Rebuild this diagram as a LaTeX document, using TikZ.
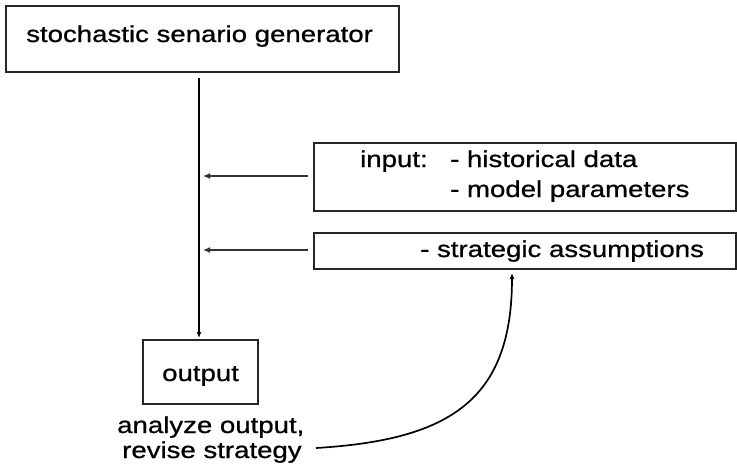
\documentclass[tikz,border=0pt]{standalone}
\usepackage{fontspec}
\setmainfont[FakeStretch=1.2,FakeBold=0.8]{Liberation Sans}
\usetikzlibrary{arrows.meta}
\begin{document}
\begin{tikzpicture}[x=1pt,y=-1pt,
  box/.style={draw=black!85, line width=1.7pt, rectangle, inner sep=0pt},
  lbl/.style={inner sep=0pt, anchor=base west, font=\fontsize{23}{27}\selectfont},
  feed/.style={draw=black!80, line width=1.1pt, -{Latex[length=7pt,width=6pt]}},
  flow/.style={draw=black, line width=1.7pt, -{Latex[length=6pt,width=5pt]}}]
  \useasboundingbox (0,0) rectangle (737,471);

  % boxes (corner to corner)
  \node[box, minimum width=393pt, minimum height=66pt, anchor=north west] (gen) at (5,5) {};
  \node[box, minimum width=422pt, minimum height=68pt, anchor=north west] (inp) at (313,142) {};
  \node[box, minimum width=422pt, minimum height=36pt, anchor=north west] (strat) at (313,232) {};
  \node[box, minimum width=115pt, minimum height=64pt, anchor=north west] (out) at (142,339) {};

  % texts
  \node[lbl] (tgen) at (26,42) {stochastic senario generator};
  \node[lbl] (tin) at (360,167) {input:};
  \node[lbl] (th) at (450,167) {- historical data};
  \node[lbl] (tm) at (450,197) {- model parameters};
  \node[lbl] (ts) at (420,257) {- strategic assumptions};
  \node[lbl] (tout) at (162,381) {output};
  \node[lbl] (ta) at (117,433) {analyze output,};
  \node[lbl] (tr) at (122,458) {revise strategy};

  % connector ends
  \coordinate (top) at (199,78);
  \coordinate (bot) at (199,338);
  \coordinate (j1) at (203,176);
  \coordinate (j2) at (203,250);
  \coordinate (s1) at (308,176);
  \coordinate (s2) at (308,250);
  \coordinate (c0) at (316,448);
  \coordinate (c1) at (512,273);

  % main flow down to the output
  \draw[flow] (top) -- (bot);
  % inputs feeding the generator line
  \draw[feed] (s1) -- (j1);
  \draw[feed] (s2) -- (j2);
  % feedback from the analysis to the strategy
  \draw[flow] (c0) .. controls (450,440) and (512,400) .. (c1);
\end{tikzpicture}
\end{document}
